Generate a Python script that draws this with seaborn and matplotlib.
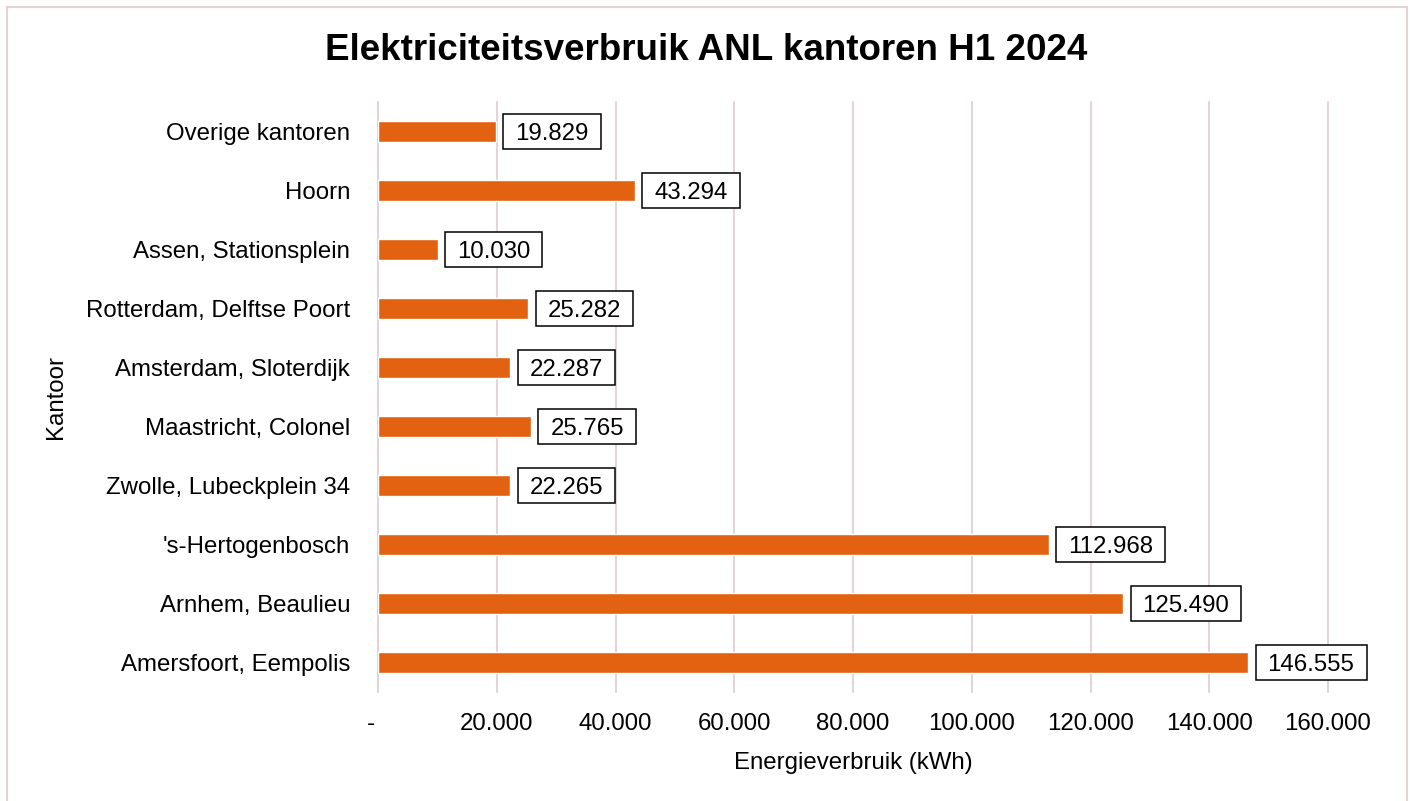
import numpy as np
import pandas as pd
import matplotlib
matplotlib.use("Agg")
import matplotlib.pyplot as plt
import matplotlib.patches as mpatches
from matplotlib.path import Path
import seaborn as sns

kantoren = [
    "Overige kantoren",
    "Hoorn",
    "Assen, Stationsplein",
    "Rotterdam, Delftse Poort",
    "Amsterdam, Sloterdijk",
    "Maastricht, Colonel",
    "Zwolle, Lubeckplein 34",
    "'s-Hertogenbosch",
    "Arnhem, Beaulieu",
    "Amersfoort, Eempolis",
]
verbruik = [19829, 43294, 10030, 25282, 22287, 25765, 22265, 112968, 125490, 146555]
x_ticks = [0, 20000, 40000, 60000, 80000, 100000, 120000, 140000, 160000]
x_ticklabels = ["-  ", "20.000", "40.000", "60.000", "80.000",
                "100.000", "120.000", "140.000", "160.000"]

df = pd.DataFrame({"Kantoor": kantoren, "kWh": verbruik})

sns.set_theme(style="white")
plt.rcParams["font.family"] = ["Liberation Sans", "DejaVu Sans"]
plt.rcParams["text.color"] = "black"
plt.rcParams["axes.labelcolor"] = "black"

BAR = "#E36211"
GRID = "#E2D5D7"
FS = 17.3

fig = plt.figure(figsize=(14.12, 8.01), dpi=100)
ax = fig.add_axes([378 / 1412, 1 - 692 / 801, 950 / 1412, 590 / 801])

sns.barplot(data=df, x="kWh", y="Kantoor", orient="h", color=BAR,
            width=0.35, saturation=1, ax=ax, zorder=3)

ax.set_xlim(0, 160000)
ax.set_xticks(x_ticks)
ax.set_xticklabels(x_ticklabels)
ax.tick_params(axis="both", length=0, labelsize=FS, colors="black")
ax.tick_params(axis="y", pad=20)
ax.tick_params(axis="x", pad=15)
for s in ax.spines.values():
    s.set_visible(False)
ax.grid(axis="x", color=GRID, lw=1.5, zorder=0)
ax.grid(axis="y", visible=False)
for gl in ax.get_xgridlines():
    gl.set_clip_on(False)

ax.set_xlabel("Energieverbruik (kWh)", fontsize=FS, labelpad=12)
ax.set_ylabel("Kantoor", fontsize=FS, labelpad=14)


def label_box(x0, y0, width, height, mutation_size):
    # wider at the sides, and more room on top so the digits sit centred
    px = 0.5 * mutation_size
    pb = 0.19 * mutation_size
    pt = 0.38 * mutation_size
    x1, y1 = x0 + width + px, y0 + height + pt
    x0, y0 = x0 - px, y0 - pb
    return Path([(x0, y0), (x1, y0), (x1, y1), (x0, y1), (x0, y0)],
                closed=True)


for i, v in enumerate(verbruik):
    ax.annotate(f"{v:,}".replace(",", "."), xy=(v, i), xytext=(14, -1.6),
                textcoords="offset points", ha="left", va="center",
                fontsize=FS, color="black", zorder=5, annotation_clip=False,
                bbox=dict(boxstyle=label_box, fc="white", ec="black", lw=1.1))

fig.text(0.5, 1 - 50 / 801, "Elektriciteitsverbruik ANL kantoren H1 2024",
         ha="center", va="center", fontsize=26.5, fontweight="bold",
         color="black")

fig.patches.append(mpatches.Rectangle(
    (7 / 1412, -0.02), 1400 / 1412, 1 - 7 / 801 + 0.02,
    transform=fig.transFigure, fill=False, ec="#E3D3D3", lw=1.5))

fig.savefig("out.png", dpi=100)
